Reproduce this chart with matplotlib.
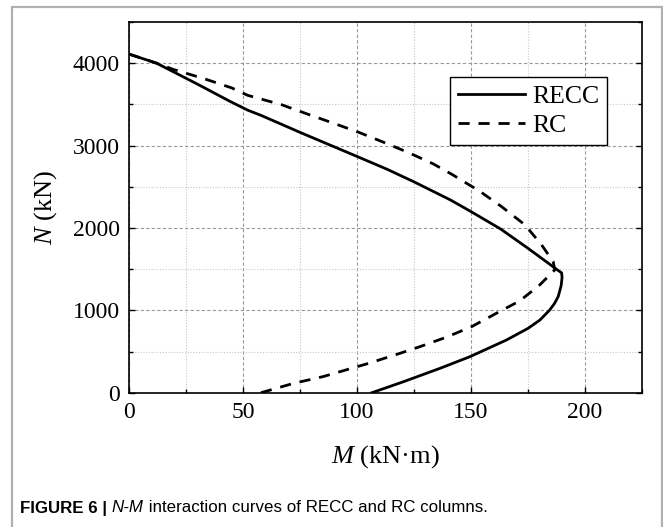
import matplotlib

matplotlib.use("Agg")

import matplotlib.pyplot as plt
from matplotlib.patches import Rectangle
from matplotlib.ticker import MultipleLocator

plt.rcParams["mathtext.fontset"] = "custom"
plt.rcParams["mathtext.it"] = "Liberation Serif:italic"
plt.rcParams["mathtext.rm"] = "Liberation Serif"

# RECC interaction curve (M in kN·m, N in kN)
recc_m = [0, 12, 30, 44, 52, 58, 75, 100, 113, 125, 141, 150, 163, 175, 183, 188, 189.8,
          190.0, 189.6, 188.3, 186.6, 184.6, 180.3, 175.1, 165.6, 149.5, 136.4, 120, 106.5]
recc_n = [4110, 4000, 3745, 3540, 3430, 3365, 3160, 2868, 2715, 2560, 2340, 2199, 1988, 1754,
          1592, 1490, 1455, 1400, 1300, 1167, 1080, 1005, 883, 782, 640, 437, 296, 130, 0]

# RC interaction curve
rc_m = [0, 12, 19.3, 33, 45, 52, 66.9, 77.9, 89.5, 100.5, 111.5, 122.5, 133.4, 142, 154, 163.4,
        173.7, 181, 186.1, 186.8, 180.2, 171.5, 161.2, 150.3, 139.3, 127.6, 118.8, 105, 85, 72,
        57.8]
rc_n = [4110, 4000, 3925, 3811, 3700, 3610, 3496, 3386, 3273, 3164, 3042, 2916, 2779, 2645,
        2443, 2260, 2038, 1795, 1592, 1491, 1309, 1116, 965, 802, 675, 559, 478, 356, 195, 113,
        0]

x_ticks = [0, 50, 100, 150, 200]
y_ticks = [0, 1000, 2000, 3000, 4000]

serif = "Liberation Serif"

fig = plt.figure(figsize=(6.63, 5.27), dpi=100)
ax = fig.add_axes([0.195, 0.2548, 0.773, 0.7034])

ax.plot(recc_m, recc_n, color="black", linewidth=2.0, label="RECC")
ax.plot(rc_m, rc_n, color="black", linewidth=2.0, linestyle=(0, (4, 3.2)), label="RC")

ax.set_xlim(0, 225)
ax.set_ylim(0, 4500)
ax.set_xticks(x_ticks)
ax.set_yticks(y_ticks)
ax.xaxis.set_minor_locator(MultipleLocator(25))
ax.yaxis.set_minor_locator(MultipleLocator(500))

ax.grid(which="major", color="#9a9a9a", linestyle=(0, (3, 2)), linewidth=0.8)
ax.grid(which="minor", color="#c8c8c8", linestyle=(0, (1, 1.5)), linewidth=0.8)
ax.set_axisbelow(True)

ax.tick_params(which="both", direction="in", right=True, top=False, width=1.0)
ax.tick_params(which="major", length=4, pad=7)
ax.tick_params(which="minor", length=3)
for label in ax.get_xticklabels() + ax.get_yticklabels():
    label.set_fontfamily(serif)
    label.set_fontsize(17)
for spine in ax.spines.values():
    spine.set_linewidth(1.2)

ax.set_xlabel(r"$\it{M}$ (kN·m)", fontfamily=serif, fontsize=19, labelpad=14)
ax.set_ylabel(r"$\it{N}$ (kN)", fontfamily=serif, fontsize=19, labelpad=10)

leg = ax.legend(loc="upper right", bbox_to_anchor=(0.933, 0.852), borderaxespad=0,
                prop={"family": serif, "size": 18.5}, fancybox=False, framealpha=1,
                edgecolor="black", handlelength=2.6, handletextpad=0.3,
                labelspacing=0.25, borderpad=0.3)
leg.get_frame().set_linewidth(1.0)

# figure frame
fig.patches.append(Rectangle((12 / 663, -0.1), 650 / 663, 1.1 - 7 / 527,
                             transform=fig.transFigure, fill=False,
                             edgecolor="#b0b0b0", linewidth=1.6))

# caption, built piece by piece
renderer = fig.canvas.get_renderer()
pieces = [("FIGURE 6 | ", "bold", "normal"), ("N-M", "normal", "italic"),
          (" interaction curves of RECC and RC columns.", "normal", "normal")]
x_pos = 20 / 663
for text, weight, style in pieces:
    t = fig.text(x_pos, 1 - 508 / 527, text, fontfamily="Liberation Sans", fontsize=12.2,
                 fontweight=weight, fontstyle=style, va="center", ha="left")
    bb = t.get_window_extent(renderer)
    x_pos = bb.x1 / fig.bbox.width

fig.savefig("out.png", dpi=100)
